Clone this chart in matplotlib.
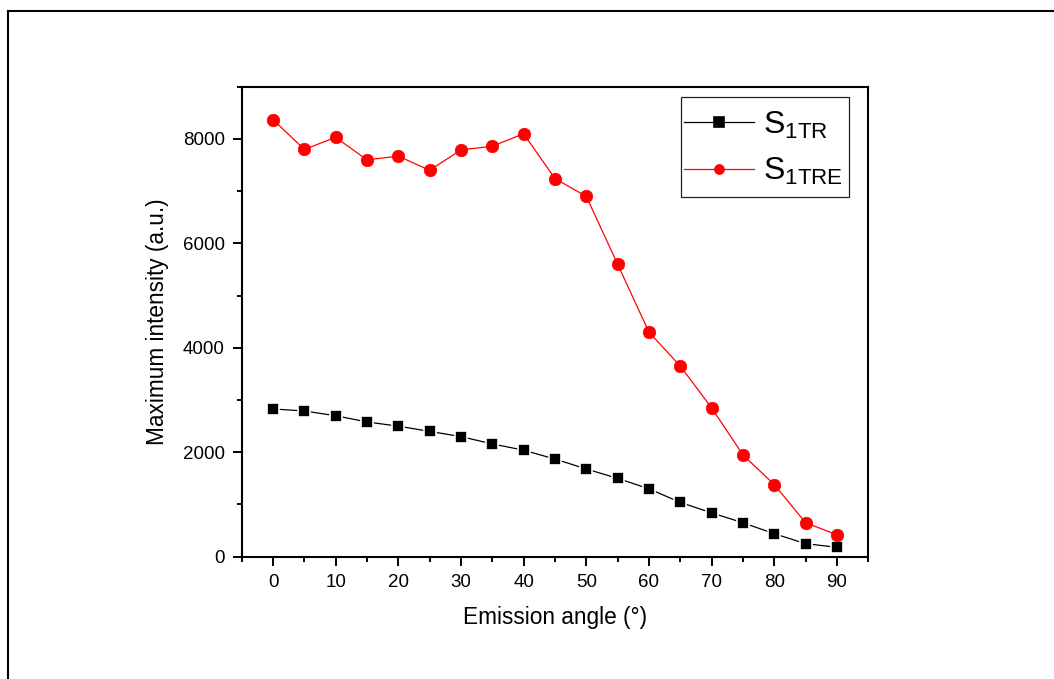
import matplotlib
matplotlib.use("Agg")
import matplotlib.pyplot as plt
from matplotlib.lines import Line2D
from matplotlib.patches import Rectangle
from matplotlib.ticker import MultipleLocator

plt.rcParams['font.family'] = ['Liberation Sans', 'DejaVu Sans']
plt.rcParams['mathtext.fontset'] = 'custom'
plt.rcParams['mathtext.rm'] = 'Liberation Sans'
plt.rcParams['mathtext.it'] = 'Liberation Sans'

angles = [0, 5, 10, 15, 20, 25, 30, 35, 40, 45, 50, 55, 60, 65, 70, 75, 80, 85, 90]
s1tr = [2830, 2790, 2700, 2580, 2500, 2400, 2300, 2160, 2040, 1870, 1680, 1500,
        1300, 1040, 840, 650, 440, 250, 180]
s1tre = [8370, 7800, 8030, 7600, 7670, 7400, 7790, 7860, 8100, 7240, 6900, 5600,
         4300, 3650, 2850, 1950, 1380, 650, 420]
labels = [r'$\mathrm{S}_{\mathrm{1TR}}$', r'$\mathrm{S}_{\mathrm{1TRE}}$']
xlabel = 'Emission angle (°)'
ylabel = 'Maximum intensity (a.u.)'

fig = plt.figure(figsize=(10.54, 6.79), dpi=100)
ax = fig.add_axes([0.2293, 0.1801, 0.8238 - 0.2293, 0.8723 - 0.1801])

ax.plot(angles, s1tr, color='black', lw=0.9, marker='s', markersize=9,
        markerfacecolor='black', markeredgecolor='white', markeredgewidth=1.2,
        label=labels[0], zorder=3)
ax.plot(angles, s1tre, color='red', lw=0.9, marker='o', markersize=9,
        markerfacecolor='red', markeredgecolor='red', markeredgewidth=0.5,
        label=labels[1], zorder=3)

ax.set_xlim(-5, 95)
ax.set_ylim(0, 9000)
ax.xaxis.set_major_locator(MultipleLocator(10))
ax.xaxis.set_minor_locator(MultipleLocator(5))
ax.yaxis.set_major_locator(MultipleLocator(2000))
ax.yaxis.set_minor_locator(MultipleLocator(1000))
ax.tick_params(which='major', direction='out', length=6.7, width=1.4,
               labelsize=13.5, pad=5.5, top=False, right=False)
ax.tick_params(which='minor', direction='out', length=3.6, width=1.4,
               top=False, right=False)
for s in ax.spines.values():
    s.set_linewidth(1.5)

ax.set_xlabel(xlabel, fontsize=16.3, labelpad=11)
ax.set_ylabel(ylabel, fontsize=16.3, labelpad=10)

leg = ax.legend(loc='upper right', bbox_to_anchor=(0.969, 0.9632),
                borderaxespad=0, fontsize=23, frameon=False,
                handlelength=2.2, handletextpad=0.3,
                borderpad=0.17, labelspacing=0.49, markerscale=0.8)
for h in leg.legend_handles:
    h.set_markeredgecolor(h.get_markerfacecolor())

# legend frame
ax.add_patch(Rectangle((0.7011, 0.765), 0.969 - 0.7011, 0.978 - 0.765,
                       transform=ax.transAxes, fill=False, edgecolor='#222222',
                       linewidth=0.9, zorder=5))

fig.add_artist(Line2D([7.7 / 1054, 1], [1 - 11 / 679, 1 - 11 / 679],
                      transform=fig.transFigure, color='black', lw=1.5))
fig.add_artist(Line2D([7.7 / 1054, 7.7 / 1054], [0, 1 - 11 / 679],
                      transform=fig.transFigure, color='black', lw=1.5))

fig.savefig('out.png', dpi=100)
